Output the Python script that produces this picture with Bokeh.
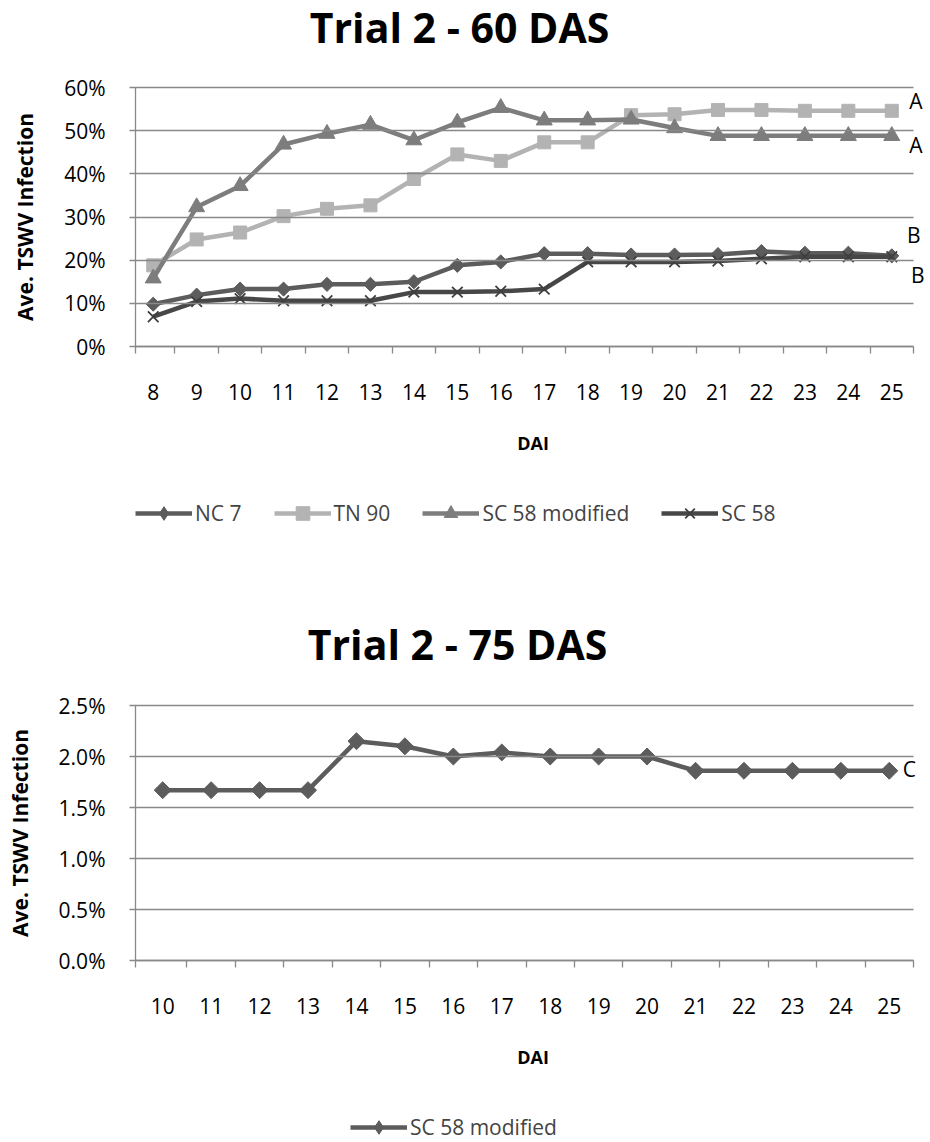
import math
from bokeh.plotting import figure
from bokeh.layouts import column
from bokeh.models import (Range1d, FixedTicker, PrintfTickFormatter, Legend, LegendItem, Label)
from bokeh.embed import file_html
from bokeh.resources import INLINE

# ---------------- data ----------------
dai_60 = [8, 9, 10, 11, 12, 13, 14, 15, 16, 17, 18, 19, 20, 21, 22, 23, 24, 25]
nc7 = [9.8, 11.9, 13.3, 13.3, 14.4, 14.4, 15.0, 18.8, 19.6, 21.5, 21.5, 21.2, 21.2, 21.3, 22.0, 21.6, 21.6, 21.0]
tn90 = [18.8, 24.8, 26.4, 30.2, 31.9, 32.7, 38.8, 44.5, 43.0, 47.3, 47.3, 53.6, 53.8, 54.8, 54.8, 54.6, 54.6, 54.6]
sc58_mod = [15.8, 32.3, 37.2, 46.8, 49.3, 51.4, 47.8, 51.9, 55.3, 52.4, 52.4, 52.6, 50.6, 48.8, 48.8, 48.8, 48.8, 48.8]
sc58 = [6.9, 10.4, 11.1, 10.6, 10.6, 10.6, 12.6, 12.6, 12.8, 13.3, 19.6, 19.6, 19.6, 19.8, 20.3, 20.8, 20.8, 20.8]
letters_60 = ["A", "A", "B", "B"]

dai_75 = [10, 11, 12, 13, 14, 15, 16, 17, 18, 19, 20, 21, 22, 23, 24, 25]
sc58_mod_75 = [1.67, 1.67, 1.67, 1.67, 2.15, 2.10, 2.00, 2.04, 2.00, 2.00, 2.00, 1.86, 1.86, 1.86, 1.86, 1.86]
letters_75 = ["C"]

y_ticks_60 = [0, 10, 20, 30, 40, 50, 60]
y_ticks_75 = [0.0, 0.5, 1.0, 1.5, 2.0, 2.5]

FONT = "Open Sans"
GRID = "#898989"
W = 930
LEFT = 135          # common frame left edge (bokeh aligns frames in a column)
RIGHT_END = 913     # where the plotted category area ends


def blank(height):
    f = figure(width=W, height=height, output_backend="svg", toolbar_location=None,
               x_axis_type=None, y_axis_type=None,
               x_range=Range1d(LEFT, W), y_range=Range1d(0, height),
               min_border_left=LEFT, min_border_right=0, min_border_top=0, min_border_bottom=0)
    f.outline_line_color = None
    return f


def title_fig(height, text, cx, center_from_top):
    f = blank(height)
    f.add_layout(Label(x=cx, y=height - center_from_top, text=text, text_font=FONT,
                       text_font_size="41px", text_font_style="bold", text_color="black",
                       text_align="center", text_baseline="middle"))
    return f


def chart(height, top, bottom, first_px, ticks, yr, yticks, yfmt):
    n = len(ticks)
    cat_w = (RIGHT_END - first_px) / n
    x_start = ticks[0] - 0.5 - (first_px - LEFT) / cat_w
    frame_w = W - LEFT
    p = figure(width=W, height=height, output_backend="svg", toolbar_location=None,
               x_range=Range1d(x_start, x_start + frame_w / cat_w), y_range=Range1d(*yr),
               min_border_left=LEFT, min_border_right=0, min_border_top=top, min_border_bottom=bottom)
    p.outline_line_color = None
    p.xgrid.grid_line_color = None
    p.ygrid.grid_line_color = None
    for ax in (p.xaxis[0], p.yaxis[0]):
        ax.axis_line_color = GRID
        ax.axis_line_width = 1.3
        ax.major_label_text_font = FONT
        ax.major_label_text_font_size = "21px"
        ax.major_label_text_color = "black"
        ax.axis_label_text_font = FONT
        ax.axis_label_text_font_style = "bold"
        ax.axis_label_text_color = "black"
    xa = p.xaxis[0]
    xa.bounds = (x_start, ticks[-1] + 0.5)
    xa.ticker = FixedTicker(ticks=ticks,
                            minor_ticks=[x_start] + [t + 0.5 for t in ticks])
    xa.major_tick_line_color = None
    xa.major_tick_out = 0
    xa.major_tick_in = 0
    xa.minor_tick_line_color = GRID
    xa.minor_tick_line_width = 1.3
    xa.minor_tick_out = 7
    xa.minor_tick_in = 0
    xa.major_label_standoff = 30
    xa.axis_label = "DAI"
    xa.axis_label_text_font_size = "18px"
    xa.axis_label_standoff = 28
    ya = p.yaxis[0]
    ya.ticker = FixedTicker(ticks=yticks)
    ya.formatter = PrintfTickFormatter(format=yfmt)
    ya.major_tick_line_color = GRID
    ya.major_tick_line_width = 1.3
    ya.major_tick_out = 6
    ya.major_tick_in = RIGHT_END - LEFT   # horizontal gridlines ending at the last category
    ya.minor_tick_line_color = None
    ya.major_label_standoff = 24
    ya.axis_label = "Ave. TSWV Infection"
    ya.axis_label_text_font_size = "21px"
    ya.axis_label_standoff = 22
    return p


def add_series(p, xs, ys, col, mk, sz, ang, xcol):
    r1 = p.line(xs, ys, line_color=col, line_width=4.5, line_join="round")
    if mk == "x":
        r2 = p.scatter(xs, ys, marker="x", size=sz, line_color=xcol, line_width=1.8)
    else:
        r2 = p.scatter(xs, ys, marker=mk, size=sz, angle=ang, fill_color=col, line_color=col)
    return [r1, r2]


def legend_fig(height, specs, x_page, bottom_y):
    # the series are drawn again here only to feed the legend; their x values lie
    # outside this strip's range, so only the legend shows
    f = blank(height)
    items = []
    for name, xs, ys, col, mk, sz, ang, xcol in specs:
        if mk == "square" and ang:      # legend glyphs ignore angle: use a diamond there
            mk, ang = "diamond", 0
        items.append(LegendItem(label=name, renderers=add_series(f, xs, ys, col, mk, sz, ang, xcol)))
    lg = Legend(items=items, orientation="horizontal", location=(x_page - LEFT, bottom_y))
    lg.label_text_font = FONT
    lg.label_text_font_size = "21px"
    lg.glyph_width = 57
    lg.glyph_height = 34
    lg.label_standoff = 3
    lg.spacing = 32
    lg.padding = 0
    lg.margin = 0
    lg.border_line_color = None
    lg.background_fill_alpha = 0
    f.add_layout(lg)
    return f


# ---------------- chart 1 : 60 DAS ----------------
series = [
    ("NC 7", nc7, "#5c5c5c", "square", 10, math.pi / 4, None),
    ("TN 90", tn90, "#b3b3b3", "square", 13, 0, None),
    ("SC 58 modified", sc58_mod, "#7d7d7d", "triangle", 16, 0, None),
    ("SC 58", sc58, "#474747", "x", 15, 0, "#3f3f3f"),
]

t1 = title_fig(60, "Trial 2 - 60 DAS", 459, 26)
p1 = chart(430, 27, 144, 131, dai_60, (0, 60), y_ticks_60, "%d%%")
for name, ys, col, mk, sz, ang, xcol in series:
    add_series(p1, dai_60, ys, col, mk, sz, ang, xcol)

last_vals = [tn90[-1], sc58_mod[-1], nc7[-1], sc58[-1]]
offs = [(24, 10), (24, -9), (22, 21), (26, -18)]
for letter, v, (dx, dy) in zip(letters_60, last_vals, offs):
    p1.add_layout(Label(x=dai_60[-1], y=v, x_offset=dx, y_offset=dy, text=letter,
                        text_font=FONT, text_font_size="21px", text_color="black",
                        text_align="center", text_baseline="middle"))

l1 = legend_fig(55, [(n, dai_60, ys, c, m, s, a, xc) for n, ys, c, m, s, a, xc in series], LEFT, 15)

# ---------------- chart 2 : 75 DAS ----------------
t2 = title_fig(135, "Trial 2 - 75 DAS", 457, 98)
p2 = chart(420, 25, 140, 138, dai_75, (0, 2.5), y_ticks_75, "%.1f%%")
add_series(p2, dai_75, sc58_mod_75, "#5c5c5c", "square", 12, math.pi / 4, None)
p2.add_layout(Label(x=dai_75[-1], y=sc58_mod_75[-1], x_offset=20, y_offset=2, text=letters_75[0],
                    text_font=FONT, text_font_size="21px", text_color="black",
                    text_align="center", text_baseline="middle"))

l2 = legend_fig(42, [("SC 58 modified", dai_75, sc58_mod_75, "#5c5c5c", "square", 12, math.pi / 4, None)],
                350, -2)

layout = column(t1, p1, l1, t2, p2, l2, spacing=0)
open("out.html", "w").write(file_html(layout, INLINE))
